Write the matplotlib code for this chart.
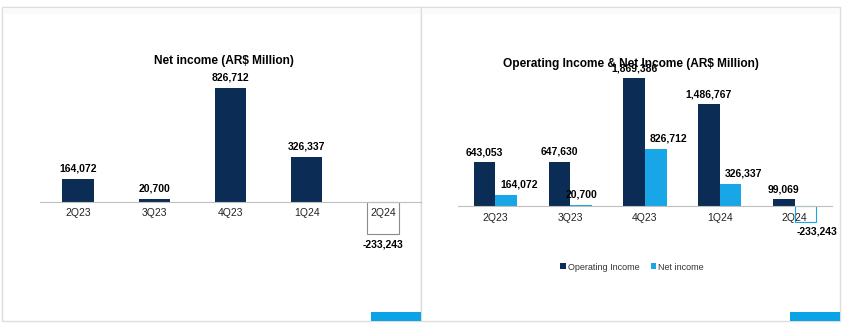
import matplotlib
matplotlib.use("Agg")
import matplotlib.pyplot as plt
from matplotlib.patches import Rectangle, Patch

plt.rcParams['font.family'] = ['Liberation Sans', 'DejaVu Sans']

quarters = ["2Q23", "3Q23", "4Q23", "1Q24", "2Q24"]
net_income = [164072, 20700, 826712, 326337, -233243]
operating_income = [643053, 647630, 1869386, 1486767, 99069]

NAVY = "#0b2c54"
LIGHT = "#19a6e6"
ACCENT = "#0aa3e6"
W, H = 845, 328

fig = plt.figure(figsize=(W / 100, H / 100), dpi=100)


def px_axes(x0, y0, x1, y1):
    ax = fig.add_axes([x0 / W, 1 - y1 / H, (x1 - x0) / W, (y1 - y0) / H])
    ax.set_zorder(2)
    return ax


def fmt(v):
    return f"{v:,.0f}"


# panel frames
for (x0, x1) in [(2, 421), (421, 840)]:
    fig.patches.append(Rectangle((x0 / W, 1 - 321 / H), (x1 - x0) / W, (321 - 7) / H,
                                 transform=fig.transFigure, facecolor="white",
                                 edgecolor="#dcdcdc", lw=1, zorder=-3))
    fig.patches.append(Rectangle(((x0 + 1) / W, 1 - 14 / H), (x1 - x0 - 2) / W, 6.5 / H,
                                 transform=fig.transFigure, facecolor="#fafafa",
                                 edgecolor="none", zorder=-2))
    fig.patches.append(Rectangle(((x1 - 50) / W, 1 - 321 / H), 50 / W, 9 / H,
                                 transform=fig.transFigure, facecolor=ACCENT,
                                 edgecolor="none", zorder=-1))


def style_axes(ax):
    ax.patch.set_visible(False)
    for s in ["top", "right", "left"]:
        ax.spines[s].set_visible(False)
    ax.spines["bottom"].set_position(("data", 0))
    ax.spines["bottom"].set_color("#bfbfbf")
    ax.spines["bottom"].set_linewidth(0.8)
    ax.set_yticks([])
    ax.set_xticks(range(len(quarters)))
    ax.set_xticklabels(quarters, fontsize=7.5, color="#222222")
    ax.tick_params(axis="x", length=0, pad=5)
    ax.set_xlim(-0.5, len(quarters) - 0.5)


# ---------- Left chart ----------
axL = px_axes(40, 70, 421, 260)
style_axes(axL)
sL = 7271.0
axL.set_ylim(-(260 - 201.5) * sL, (201.5 - 70) * sL)
for i, v in enumerate(net_income):
    if v >= 0:
        axL.bar(i, v, width=0.41, color=NAVY, zorder=1)
        axL.annotate(fmt(v), (i, v), xytext=(0, 4), textcoords="offset points",
                     ha="center", va="bottom", fontsize=7.5, fontweight="bold")
    else:
        axL.bar(i, v, width=0.41, facecolor="white", edgecolor="#8c8c8c", lw=0.8, zorder=1)
        axL.annotate(fmt(v), (i, v), xytext=(0, -4), textcoords="offset points",
                     ha="center", va="top", fontsize=7.5, fontweight="bold")
fig.text(224 / W, 1 - 61 / H, "Net income (AR$ Million)", ha="center", va="center",
         fontsize=8.6, fontweight="bold")

# ---------- Right chart ----------
axR = px_axes(458, 70, 832, 260)
style_axes(axR)
sR = 14619.0
axR.set_ylim(-(260 - 206) * sR, (206 - 70) * sR)
bw = 0.29
net_label_dx = [9, 0, 9, 9, 8]
for i, (o, n) in enumerate(zip(operating_income, net_income)):
    axR.bar(i - bw / 2, o, width=bw, color=NAVY, zorder=1)
    axR.annotate(fmt(o), (i - bw / 2, o), xytext=(0, 3.5), textcoords="offset points",
                 ha="center", va="bottom", fontsize=7.5, fontweight="bold", zorder=5)
    if n >= 0:
        axR.bar(i + bw / 2, n, width=bw, color=LIGHT, zorder=1)
        axR.annotate(fmt(n), (i + bw / 2, n), xytext=(net_label_dx[i], 4),
                     textcoords="offset points", ha="center", va="bottom",
                     fontsize=7.5, fontweight="bold", zorder=5)
    else:
        axR.bar(i + bw / 2, n, width=bw, facecolor="white", edgecolor=LIGHT, lw=0.8, zorder=1)
        axR.annotate(fmt(n), (i + bw / 2, n), xytext=(net_label_dx[i], -3),
                     textcoords="offset points", ha="center", va="top",
                     fontsize=7.5, fontweight="bold", zorder=5)
fig.text(631 / W, 1 - 64 / H, "Operating Income & Net Income (AR$ Million)", ha="center",
         va="center", fontsize=8.6, fontweight="bold")

handles = [Patch(facecolor=NAVY, edgecolor="none", label="Operating Income"),
           Patch(facecolor=LIGHT, edgecolor="none", label="Net income")]
fig.legend(handles=handles, loc="center", bbox_to_anchor=(632 / W, 1 - 267 / H), ncol=2,
           frameon=False, fontsize=6.5, handlelength=0.6, handleheight=0.6,
           handletextpad=0.2, columnspacing=1.3, labelcolor="#333333")

fig.savefig("out.png", dpi=100)
